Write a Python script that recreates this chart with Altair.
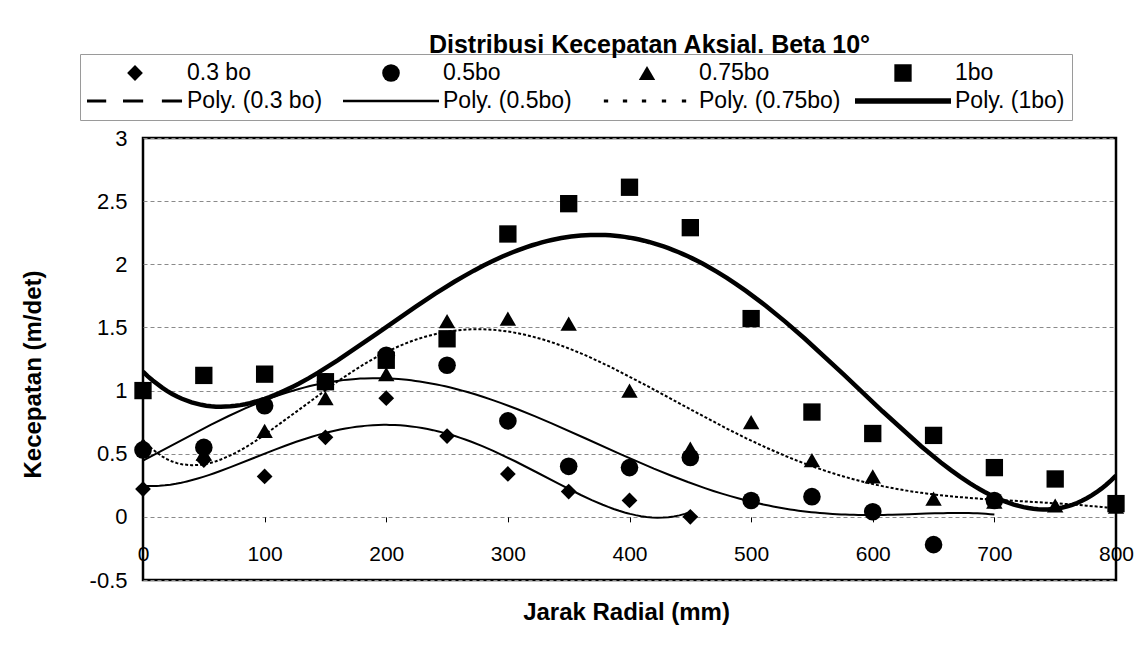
import altair as alt
import pandas as pd

# ---------------- data ----------------
radial_03 = [0, 50, 100, 150, 200, 250, 300, 350, 400, 450]
speed_03 = [0.22, 0.45, 0.32, 0.63, 0.94, 0.64, 0.34, 0.20, 0.13, 0.00]

radial_05 = [0, 50, 100, 150, 200, 250, 300, 350, 400, 450, 500, 550, 600, 650, 700]
speed_05 = [0.53, 0.55, 0.88, 1.07, 1.28, 1.20, 0.76, 0.40, 0.39, 0.47, 0.13, 0.16, 0.04, -0.22, 0.13]

radial_075 = [0, 50, 100, 150, 200, 250, 300, 350, 400, 450, 500, 550, 600, 650, 700, 750, 800]
speed_075 = [0.57, 0.50, 0.68, 0.94, 1.13, 1.55, 1.57, 1.53, 1.00, 0.54, 0.75, 0.45, 0.32, 0.145, 0.12, 0.09, 0.08]

radial_1 = [0, 50, 100, 150, 200, 250, 300, 350, 400, 450, 500, 550, 600, 650, 700, 750, 800]
speed_1 = [1.00, 1.12, 1.13, 1.07, 1.24, 1.41, 2.24, 2.48, 2.61, 2.29, 1.57, 0.83, 0.66, 0.645, 0.39, 0.30, 0.105]

series_names = ["0.3 bo", "0.5bo", "0.75bo", "1bo"]
trend_names = ["Poly. (0.3 bo)", "Poly. (0.5bo)", "Poly. (0.75bo)", "Poly. (1bo)"]
trend_orders = [4, 5, 6, 4]
x_ticks = [0, 100, 200, 300, 400, 500, 600, 700, 800]
y_ticks = [-0.5, 0, 0.5, 1, 1.5, 2, 2.5, 3]
chart_title = "Distribusi Kecepatan Aksial. Beta 10°"
x_title = "Jarak Radial (mm)"
y_title = "Kecepatan (m/det)"

# ---------------- table ----------------
frames = []
for name, xs, ys in zip(series_names,
                        [radial_03, radial_05, radial_075, radial_1],
                        [speed_03, speed_05, speed_075, speed_1]):
    frames.append(pd.DataFrame({"x": xs, "y": ys, "label": name}))
points_df = pd.concat(frames, ignore_index=True)

# ---------------- legend symbol shapes (unit box -1..1) ----------------
DASH = ("M-1,-0.032H-0.6V0.032H-1Z "
        "M-0.25,-0.032H0.17V0.032H-0.25Z "
        "M0.56,-0.032H0.98V0.032H0.56Z")
THIN = "M-1,-0.026H1V0.026H-1Z"
DOTS = " ".join(
    f"M{c - 0.045:.3f},-0.032H{c + 0.045:.3f}V0.032H{c - 0.045:.3f}Z"
    for c in [-0.854, -0.458, -0.062, 0.354, 0.771]
)
THICK = "M-1,-0.055H1V0.055H-1Z"
shape_range = ["diamond", "circle", "triangle-up", "square", DASH, THIN, DOTS, THICK]
size_range = [250, 310, 270, 300, 9216, 9216, 9216, 9216]
legend_domain = series_names + trend_names

FONT = "Liberation Sans"

x_enc = alt.X(
    "x:Q",
    scale=alt.Scale(domain=[0, 800], nice=False, zero=False),
    axis=alt.Axis(
        values=x_ticks, title=x_title, offset=-63.14, domain=False, grid=False,
        ticks=True, tickSize=5, tickColor="black", labelPadding=22,
        labelBaseline="top", labelFlush=False, labelOverlap=False,
        labelFont=FONT, labelFontSize=21, labelColor="black",
        titleFont=FONT, titleFontSize=24, titleFontWeight="bold", titleColor="black",
        titleX=483, titleY=96, titleBaseline="middle", titleAlign="center",
    ),
)
y_enc = alt.Y(
    "y:Q",
    scale=alt.Scale(domain=[-0.5, 3], nice=False, zero=False),
    axis=alt.Axis(
        values=y_ticks, title=y_title, domain=False, ticks=False, labelPadding=16,
        labelExpr="'' + datum.value",
        grid=True, gridColor="#8a8a8a", gridDash=[4, 3], gridWidth=1,
        labelFont=FONT, labelFontSize=22, labelColor="black", labelBaseline="middle",
        titleFont=FONT, titleFontSize=24, titleFontWeight="bold", titleColor="black",
        titleX=-110, titleY=236, titleBaseline="middle", titleAlign="center", titleAngle=-90,
    ),
)

legend = alt.Legend(
    title=None, orient="none", legendX=-63, legendY=-84, columns=4,
    direction="horizontal", gridAlign="all", columnPadding=14, rowPadding=4,
    clipHeight=24, labelOffset=4, labelFont=FONT, labelFontSize=23,
    labelColor="black", labelLimit=400, symbolStrokeWidth=0,
    symbolFillColor="black", padding=7, strokeColor="#9a9a9a",
)


def trend(name, order, width, dash=None):
    kw = dict(color="black", strokeWidth=width, clip=True)
    if dash:
        kw["strokeDash"] = dash
    return (
        alt.Chart(points_df)
        .transform_filter(alt.datum.label == name)
        .transform_calculate(xs="datum.x / 100")
        .transform_regression("xs", "y", method="poly", order=order)
        .transform_calculate(x="datum.xs * 100")
        .mark_line(**kw)
        .encode(x=x_enc, y=y_enc)
    )


points = (
    alt.Chart(points_df)
    .mark_point(filled=True, color="black", opacity=1, strokeWidth=0)
    .encode(
        x=x_enc,
        y=y_enc,
        shape=alt.Shape("label:N", scale=alt.Scale(domain=legend_domain, range=shape_range), legend=legend),
        size=alt.Size("label:N", scale=alt.Scale(type="ordinal", domain=legend_domain, range=size_range), legend=legend),
    )
)

chart = (
    alt.layer(
        trend(series_names[0], trend_orders[0], 2),
        trend(series_names[1], trend_orders[1], 2),
        trend(series_names[2], trend_orders[2], 2, [3, 2]),
        trend(series_names[3], trend_orders[3], 4.5),
        points,
    )
    .properties(
        width=973,
        height=442,
        autosize=alt.AutoSizeParams(type="none"),
        padding={"left": 135, "top": 130, "right": 19, "bottom": 60},
        title=alt.TitleParams(
            text=chart_title, font=FONT, fontSize=25, fontWeight="bold",
            color="black", anchor="middle", frame="group", dx=20, offset=-4,
        ),
    )
    .configure_view(stroke="black", strokeWidth=2.5)
)

chart.save("out.html", embed_options={"renderer": "svg", "actions": False})
